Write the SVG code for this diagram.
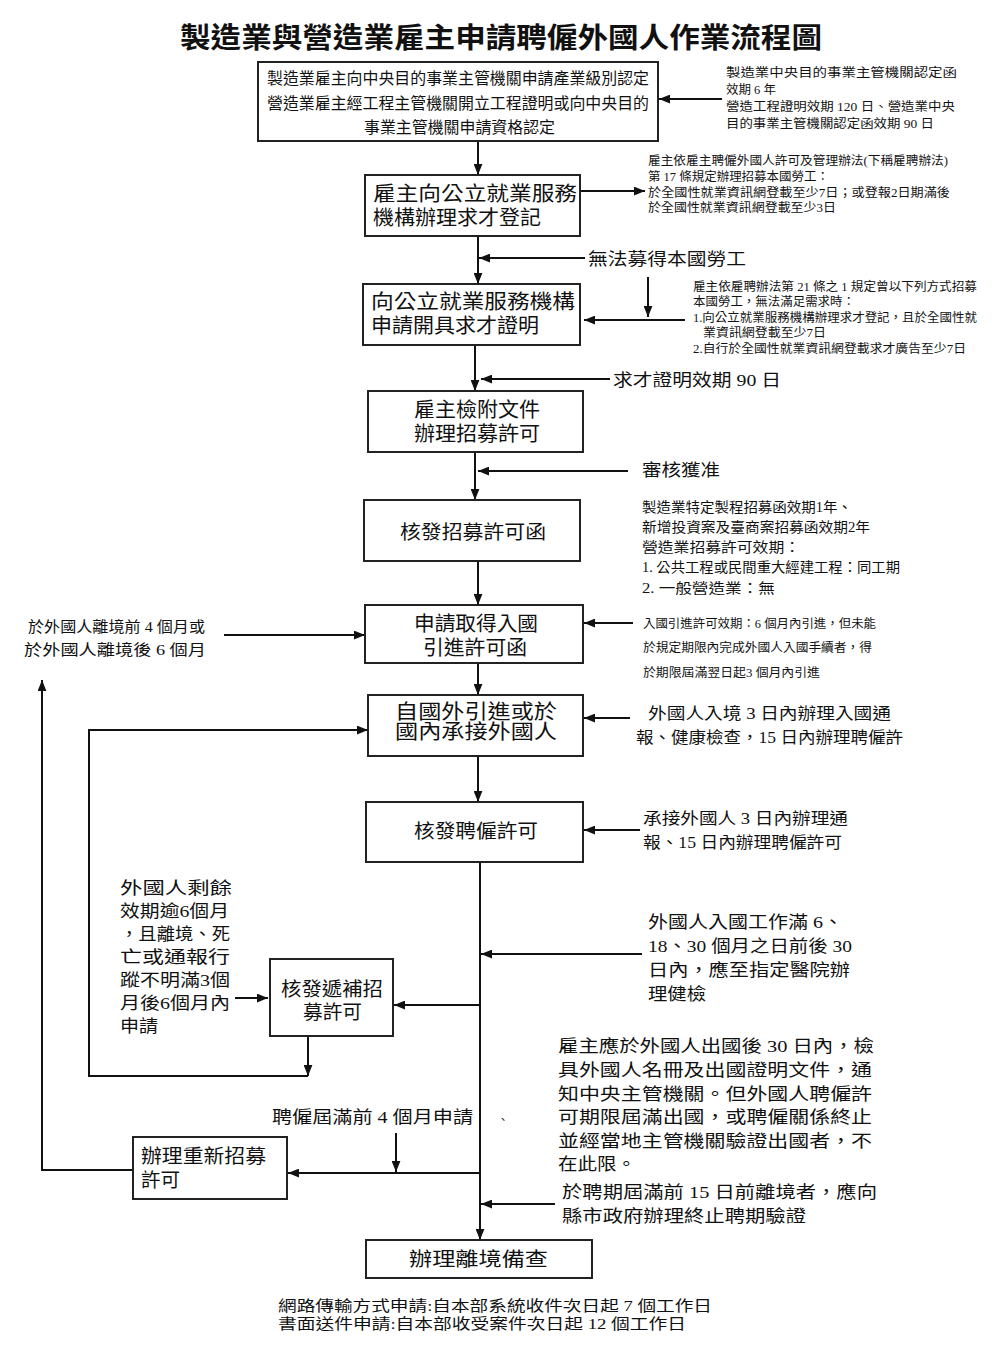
<svg xmlns="http://www.w3.org/2000/svg" width="1000" height="1359" viewBox="0 0 1000 1359">
<style>
text{font-family:"Liberation Serif","Noto Sans CJK TC",serif;fill:#111;dominant-baseline:central}
.box{fill:#fff;stroke:#222;stroke-width:2}
.ln{fill:none;stroke:#111;stroke-width:2}
.ar{fill:none;stroke:#111;stroke-width:2;marker-end:url(#ah)}
.t{font-weight:bold;font-size:28px}
.b16{font-size:16px}.b20{font-size:20px}.b19{font-size:19px}
.n12{font-size:12px}.n14{font-size:14px}.n15{font-size:15px}.n16{font-size:16px}.n17{font-size:17px}
</style>
<defs>
<marker id="ah" viewBox="0 0 10 8" refX="10" refY="4" markerWidth="11" markerHeight="9" markerUnits="userSpaceOnUse" orient="auto"><path d="M0,0L10,4L0,8z" fill="#111"/></marker>
</defs>
<rect width="1000" height="1359" fill="#fff"/>
<text class="t" x="180" y="38" textLength="642" lengthAdjust="spacingAndGlyphs">製造業與營造業雇主申請聘僱外國人作業流程圖</text>

<g id="connectors">
<path class="ar" d="M722,99H659"/>
<path class="ar" d="M478,141V175"/>
<path class="ar" d="M580,191H645"/>
<path class="ar" d="M478,236V284"/>
<path class="ar" d="M585,258H479"/>
<path class="ar" d="M648,277V317"/>
<path class="ar" d="M685,320H584"/>
<path class="ar" d="M475,345V391"/>
<path class="ar" d="M610,379H481"/>
<path class="ar" d="M475,452V500"/>
<path class="ar" d="M628,471H478"/>
<path class="ar" d="M478,561V605"/>
<path class="ar" d="M224,635H365"/>
<path class="ar" d="M633,623H584"/>
<path class="ar" d="M478,663V695"/>
<path class="ar" d="M630,718H584"/>
<path class="ar" d="M308,1076H89V730H368"/>
<path class="ar" d="M478,756V802"/>
<path class="ar" d="M640,830H584"/>
<path class="ar" d="M480,862V1240"/>
<path class="ar" d="M642,954H481"/>
<path class="ar" d="M479,1005H394"/>
<path class="ar" d="M235,998H268"/>
<path class="ar" d="M308,1036V1076"/>
<path class="ar" d="M396,1133V1172"/>
<path class="ar" d="M479,1173H288"/>
<path class="ar" d="M133,1170H42V680"/>
<path class="ar" d="M555,1204H481"/>
</g>

<g id="n1">
<rect class="box" x="258" y="62" width="400" height="79"/>
<text class="b16" x="267" y="78" textLength="382" lengthAdjust="spacingAndGlyphs">製造業雇主向中央目的事業主管機關申請產業級別認定</text>
<text class="b16" x="267" y="103" textLength="382" lengthAdjust="spacingAndGlyphs">營造業雇主經工程主管機關開立工程證明或向中央目的</text>
<text class="b16" x="364" y="127" textLength="191" lengthAdjust="spacingAndGlyphs">事業主管機關申請資格認定</text>
</g>
<g id="note1">
<text class="n12" x="726" y="73" textLength="231" lengthAdjust="spacingAndGlyphs">製造業中央目的事業主管機關認定函</text>
<text class="n12" x="726" y="90" textLength="50" lengthAdjust="spacingAndGlyphs">效期 6 年</text>
<text class="n12" x="726" y="107" textLength="229" lengthAdjust="spacingAndGlyphs">營造工程證明效期 120 日、營造業中央</text>
<text class="n12" x="726" y="124" textLength="208" lengthAdjust="spacingAndGlyphs">目的事業主管機關認定函效期 90 日</text>
</g>

<g id="n2">
<rect class="box" x="365" y="175" width="215" height="61"/>
<text class="b20" x="373" y="194" textLength="204" lengthAdjust="spacingAndGlyphs">雇主向公立就業服務</text>
<text class="b20" x="373" y="218" textLength="168" lengthAdjust="spacingAndGlyphs">機構辦理求才登記</text>
</g>
<g id="note2">
<text class="n12" x="648" y="161" textLength="300" lengthAdjust="spacingAndGlyphs">雇主依雇主聘僱外國人許可及管理辦法(下稱雇聘辦法)</text>
<text class="n12" x="648" y="177" textLength="181" lengthAdjust="spacingAndGlyphs">第 17 條規定辦理招募本國勞工：</text>
<text class="n12" x="648" y="193" textLength="302" lengthAdjust="spacingAndGlyphs">於全國性就業資訊網登載至少7日；或登報2日期滿後</text>
<text class="n12" x="648" y="208" textLength="188" lengthAdjust="spacingAndGlyphs">於全國性就業資訊網登載至少3日</text>
</g>
<text class="n17" x="588" y="259" textLength="158" lengthAdjust="spacingAndGlyphs">無法募得本國勞工</text>

<g id="n3">
<rect class="box" x="363" y="284" width="217" height="61"/>
<text class="b20" x="371" y="302" textLength="204" lengthAdjust="spacingAndGlyphs">向公立就業服務機構</text>
<text class="b20" x="371" y="326" textLength="168" lengthAdjust="spacingAndGlyphs">申請開具求才證明</text>
</g>
<g id="note3">
<text class="n12" x="693" y="287" textLength="284" lengthAdjust="spacingAndGlyphs">雇主依雇聘辦法第 21 條之 1 規定曾以下列方式招募</text>
<text class="n12" x="693" y="302" textLength="162" lengthAdjust="spacingAndGlyphs">本國勞工，無法滿足需求時：</text>
<text class="n12" x="693" y="318" textLength="284" lengthAdjust="spacingAndGlyphs">1.向公立就業服務機構辦理求才登記，且於全國性就</text>
<text class="n12" x="703" y="333" textLength="123" lengthAdjust="spacingAndGlyphs">業資訊網登載至少7日</text>
<text class="n12" x="693" y="349" textLength="273" lengthAdjust="spacingAndGlyphs">2.自行於全國性就業資訊網登載求才廣告至少7日</text>
</g>
<text class="n17" x="613" y="380" textLength="168" lengthAdjust="spacingAndGlyphs">求才證明效期 90 日</text>

<g id="n4">
<rect class="box" x="368" y="391" width="215" height="61"/>
<text class="b20" x="414" y="410" textLength="126" lengthAdjust="spacingAndGlyphs">雇主檢附文件</text>
<text class="b20" x="414" y="434" textLength="126" lengthAdjust="spacingAndGlyphs">辦理招募許可</text>
</g>
<text class="n17" x="642" y="470" textLength="78" lengthAdjust="spacingAndGlyphs">審核獲准</text>

<g id="n5">
<rect class="box" x="364" y="500" width="216" height="61"/>
<text class="b19" x="400" y="532" textLength="146" lengthAdjust="spacingAndGlyphs">核發招募許可函</text>
</g>
<g id="note5">
<text class="n14" x="642" y="507" textLength="210" lengthAdjust="spacingAndGlyphs">製造業特定製程招募函效期1年、</text>
<text class="n14" x="642" y="527" textLength="228" lengthAdjust="spacingAndGlyphs">新增投資案及臺商案招募函效期2年</text>
<text class="n14" x="642" y="547" textLength="158" lengthAdjust="spacingAndGlyphs">營造業招募許可效期：</text>
<text class="n14" x="642" y="567" textLength="258" lengthAdjust="spacingAndGlyphs">1. 公共工程或民間重大經建工程：同工期</text>
<text class="n14" x="642" y="588" textLength="133" lengthAdjust="spacingAndGlyphs">2. 一般營造業：無</text>
</g>

<g id="n6">
<rect class="box" x="365" y="605" width="218" height="58"/>
<text class="b20" x="414" y="624" textLength="124" lengthAdjust="spacingAndGlyphs">申請取得入國</text>
<text class="b20" x="423" y="648" textLength="104" lengthAdjust="spacingAndGlyphs">引進許可函</text>
</g>
<g id="note6l">
<text class="n15" x="28" y="627" textLength="177" lengthAdjust="spacingAndGlyphs">於外國人離境前 4 個月或</text>
<text class="n15" x="24" y="650" textLength="182" lengthAdjust="spacingAndGlyphs">於外國人離境後 6 個月</text>
</g>
<g id="note6">
<text class="n12" x="643" y="624" textLength="233" lengthAdjust="spacingAndGlyphs">入國引進許可效期：6 個月內引進，但未能</text>
<text class="n12" x="643" y="648" textLength="229" lengthAdjust="spacingAndGlyphs">於規定期限內完成外國人入國手續者，得</text>
<text class="n12" x="643" y="673" textLength="177" lengthAdjust="spacingAndGlyphs">於期限屆滿翌日起3 個月內引進</text>
</g>

<g id="n7">
<rect class="box" x="368" y="695" width="215" height="61"/>
<text class="b20" x="395" y="712" textLength="162" lengthAdjust="spacingAndGlyphs">自國外引進或於</text>
<text class="b20" x="395" y="732" textLength="162" lengthAdjust="spacingAndGlyphs">國內承接外國人</text>
</g>
<g id="note7">
<text class="n16" x="648" y="713" textLength="243" lengthAdjust="spacingAndGlyphs">外國人入境 3 日內辦理入國通</text>
<text class="n16" x="636" y="737" textLength="267" lengthAdjust="spacingAndGlyphs">報、健康檢查，15 日內辦理聘僱許</text>
</g>

<g id="n8">
<rect class="box" x="366" y="802" width="217" height="60"/>
<text class="b19" x="414" y="831" textLength="124" lengthAdjust="spacingAndGlyphs">核發聘僱許可</text>
</g>
<g id="note8">
<text class="n16" x="643" y="818" textLength="205" lengthAdjust="spacingAndGlyphs">承接外國人 3 日內辦理通</text>
<text class="n16" x="643" y="842" textLength="199" lengthAdjust="spacingAndGlyphs">報、15 日內辦理聘僱許可</text>
</g>

<g id="note9">
<text class="n17" x="648" y="922" textLength="195" lengthAdjust="spacingAndGlyphs">外國人入國工作滿 6、</text>
<text class="n17" x="648" y="946" textLength="204" lengthAdjust="spacingAndGlyphs">18、30 個月之日前後 30</text>
<text class="n17" x="648" y="970" textLength="202" lengthAdjust="spacingAndGlyphs">日內，應至指定醫院辦</text>
<text class="n17" x="648" y="994" textLength="58" lengthAdjust="spacingAndGlyphs">理健檢</text>
</g>

<g id="n9note">
<text class="n17" x="120" y="888" textLength="112" lengthAdjust="spacingAndGlyphs">外國人剩餘</text>
<text class="n17" x="120" y="911" textLength="109" lengthAdjust="spacingAndGlyphs">效期逾6個月</text>
<text class="n17" x="120" y="934" textLength="110" lengthAdjust="spacingAndGlyphs">，且離境、死</text>
<text class="n17" x="120" y="957" textLength="110" lengthAdjust="spacingAndGlyphs">亡或通報行</text>
<text class="n17" x="120" y="980" textLength="110" lengthAdjust="spacingAndGlyphs">蹤不明滿3個</text>
<text class="n17" x="120" y="1003" textLength="110" lengthAdjust="spacingAndGlyphs">月後6個月內</text>
<text class="n17" x="120" y="1026" textLength="38" lengthAdjust="spacingAndGlyphs">申請</text>
</g>
<g id="n9">
<rect class="box" x="270" y="959" width="123" height="77"/>
<text class="b19" x="281" y="989" textLength="102" lengthAdjust="spacingAndGlyphs">核發遞補招</text>
<text class="b19" x="303" y="1012" textLength="59" lengthAdjust="spacingAndGlyphs">募許可</text>
</g>

<g id="note10">
<text class="n17" x="558" y="1046" textLength="316" lengthAdjust="spacingAndGlyphs">雇主應於外國人出國後 30 日內，檢</text>
<text class="n17" x="558" y="1070" textLength="314" lengthAdjust="spacingAndGlyphs">具外國人名冊及出國證明文件，通</text>
<text class="n17" x="558" y="1094" textLength="314" lengthAdjust="spacingAndGlyphs">知中央主管機關。但外國人聘僱許</text>
<text class="n17" x="558" y="1117" textLength="314" lengthAdjust="spacingAndGlyphs">可期限屆滿出國，或聘僱關係終止</text>
<text class="n17" x="558" y="1141" textLength="314" lengthAdjust="spacingAndGlyphs">並經當地主管機關驗證出國者，不</text>
<text class="n17" x="558" y="1164" textLength="78" lengthAdjust="spacingAndGlyphs">在此限。</text>
</g>
<text class="n17" x="272" y="1117" textLength="201" lengthAdjust="spacingAndGlyphs">聘僱屆滿前 4 個月申請</text>
<text class="n12" x="497" y="1120">、</text>

<g id="n10">
<rect class="box" x="133" y="1137" width="154" height="62"/>
<text class="b19" x="141" y="1156" textLength="125" lengthAdjust="spacingAndGlyphs">辦理重新招募</text>
<text class="b19" x="141" y="1180" textLength="39" lengthAdjust="spacingAndGlyphs">許可</text>
</g>
<g id="note11">
<text class="n17" x="562" y="1192" textLength="315" lengthAdjust="spacingAndGlyphs">於聘期屆滿前 15 日前離境者，應向</text>
<text class="n17" x="562" y="1216" textLength="244" lengthAdjust="spacingAndGlyphs">縣市政府辦理終止聘期驗證</text>
</g>

<g id="n11">
<rect class="box" x="366" y="1240" width="226" height="38"/>
<text class="b19" x="409" y="1259" textLength="139" lengthAdjust="spacingAndGlyphs">辦理離境備查</text>
</g>
<g id="footer">
<text class="n15" x="278" y="1306" textLength="434" lengthAdjust="spacingAndGlyphs">網路傳輸方式申請:自本部系統收件次日起 7 個工作日</text>
<text class="n15" x="278" y="1324" textLength="408" lengthAdjust="spacingAndGlyphs">書面送件申請:自本部收受案件次日起 12 個工作日</text>
</g>
</svg>
